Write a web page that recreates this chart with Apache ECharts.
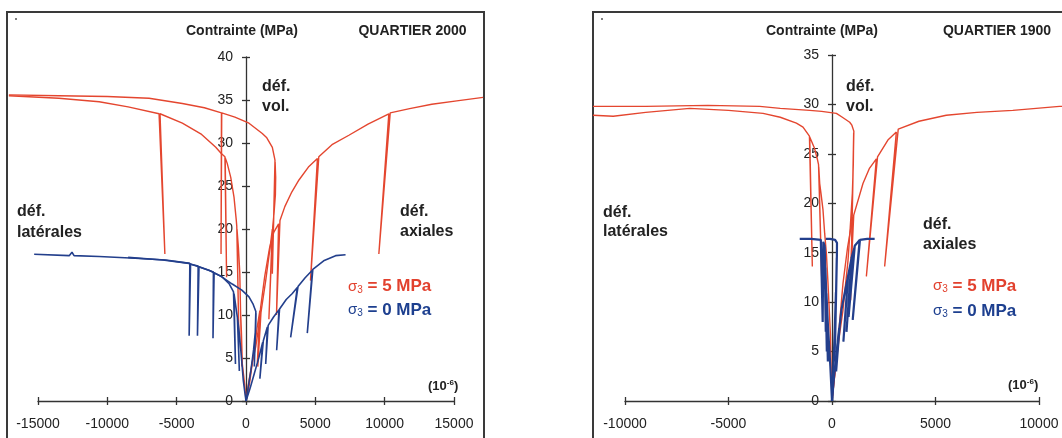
<!DOCTYPE html>
<html>
<head>
<meta charset="utf-8">
<script src="https://cdn.jsdelivr.net/npm/echarts@6/dist/echarts.min.js"></script>
<style>html,body{margin:0;padding:0;background:#fff}#c{width:1062px;height:438px}</style>
</head>
<body>
<div id="c"></div>
<script>
// ---------- DATA (strain in 1e-6, stress in MPa) ----------
// QUARTIER 2000, sigma3 = 5 MPa
const q2000_s5_axial = [[0,0],[250,2],[550,5.5],[800,8.5],[1000,10.5],[820,4.5],[1050,10.8],[1350,14.5],[1700,17.8],[2000,19.6],[2350,20.6],[2200,10],[2450,21],[2800,22.6],[3300,24.3],[3820,25.7],[4500,27.2],[5150,28.2],[4650,14],[5250,28.4],[6200,29.8],[7420,30.9],[8800,32.2],[10300,33.4],[9580,17.1],[10400,33.5],[11800,34],[13400,34.5],[15200,34.9],[17100,35.3]];
const q2000_s5_lateral = [[0,0],[-100,2],[-265,4.3],[-330,8],[-380,10],[-300,4],[-390,10.3],[-450,15],[-550,17.9],[-650,20],[-520,8],[-665,20.3],[-700,21],[-865,23.7],[-1100,26],[-1350,27.6],[-1500,28.3],[-1400,14.4],[-1520,28.4],[-1800,28.8],[-2180,29.5],[-3200,31],[-4590,32.3],[-6200,33.4],[-5850,17.1],[-6270,33.4],[-8500,34.2],[-10590,34.8],[-13500,35.2],[-17100,35.5]];
const q2000_s5_vol = [[0,0],[216,2.4],[450,4.5],[700,6.3],[1050,10],[850,4],[1080,10.3],[1420,14],[1750,18],[1900,20],[1650,9.5],[1930,20.3],[2020,21.8],[2120,24],[2140,26],[2100,27.8],[1900,14.8],[2090,28],[1900,29.5],[1500,30.6],[1175,31.1],[216,32.3],[-800,33],[-1750,33.5],[-1800,17.1],[-1770,33.5],[-3000,34.1],[-4590,34.6],[-6990,35.2],[-10000,35.4],[-13500,35.5],[-17100,35.6]];
// QUARTIER 2000, sigma3 = 0 MPa
const q2000_s0_axial = [[0,0],[300,1.5],[600,3.2],[937,5.1],[1200,6.8],[1000,2.6],[1250,7],[1540,8.6],[1420,4.3],[1600,8.8],[2000,9.8],[2380,10.6],[2210,5.9],[2420,10.7],[2900,11.8],[3340,12.5],[3700,13.2],[3220,7.4],[3750,13.3],[4250,14.3],[4780,15.2],[4420,7.9],[4820,15.3],[5600,16.3],[6460,16.9],[7180,17.0]];
const q2000_s0_lateral = [[0,0],[-100,1.2],[-195,2.4],[-350,5.5],[-505,8.2],[-600,9.5],[-480,3.5],[-620,9.7],[-865,12.5],[-760,4.3],[-900,12.7],[-1200,13.6],[-1700,14.4],[-2300,14.9],[-2380,7.3],[-2350,15],[-3390,15.6],[-3500,7.6],[-3450,15.7],[-4000,15.9],[-4100,7.6],[-4050,16],[-5790,16.4],[-8000,16.6],[-10590,16.8],[-12400,16.9],[-12550,17.3],[-12750,16.9],[-15277,17.06]];
const q2000_s0_vol = [[0,0],[150,1.5],[350,3.5],[550,6],[700,8.5],[720,10.2],[600,4],[710,10.4],[500,11.3],[216,12.1],[-300,12.9],[-990,13.6],[-1800,14.5],[-2670,15.2],[-4110,16],[-6000,16.4],[-8500,16.7]];
// QUARTIER 1900, sigma3 = 5 MPa
const q1900_s5_axial = [[0,0],[150,3],[350,7.5],[531,11.9],[750,15.5],[1000,18.6],[850,10],[1050,18.8],[1496,22],[1800,23.5],[2143,24.5],[1660,12.6],[2200,24.7],[2700,26.4],[3108,27.2],[2543,13.6],[3200,27.5],[4200,28.3],[5520,28.9],[7000,29.2],[8735,29.4],[10990,29.8],[11500,29.8]];
const q1900_s5_lateral = [[0,0],[-40,3],[-77,6.8],[-193,11.9],[-270,14.9],[-352,16.9],[-434,19.3],[-520,20.8],[-594,22],[-640,23.7],[-500,12.6],[-650,23.9],[-700,24.4],[-850,25.6],[-1076,26.7],[-950,13.6],[-1090,26.8],[-1400,27.7],[-1720,28.1],[-2500,28.7],[-3330,29.1],[-5000,29.4],[-6870,29.6],[-9000,29.2],[-10570,28.8],[-11550,28.9]];
const q1900_s5_vol = [[0,0],[100,2],[212,4.1],[370,6.8],[531,9.2],[650,11.7],[773,14.2],[880,17.5],[983,21],[1030,24],[1047,27.1],[900,10.2],[1055,27.3],[960,27.9],[855,28.2],[500,28.7],[212,29.1],[-500,29.3],[-1075,29.4],[-2500,29.6],[-3490,29.8],[-6000,29.9],[-9000,29.8],[-11550,29.8]];
// QUARTIER 1900, sigma3 = 0 MPa
const q1900_s0_axial = [[0,0],[100,2.5],[250,5.5],[350,7.4],[200,3],[370,7.6],[454,9.2],[620,11],[773,12.6],[550,6],[780,12.7],[950,14.5],[700,7],[960,14.6],[1095,15.6],[800,8.5],[1100,15.7],[1337,16.3],[1000,8.2],[1350,16.3],[1700,16.4],[2060,16.4]];
const q1900_s0_lateral = [[0,0],[-80,3.5],[-193,7.5],[-270,10.9],[-200,4],[-280,11],[-320,13.5],[-250,5],[-330,13.6],[-352,15.6],[-300,7],[-360,15.7],[-420,16.1],[-512,16.3],[-450,8],[-540,16.3],[-1000,16.4],[-1560,16.4]];
const q1900_s0_vol = [[0,0],[60,3],[130,7],[190,11],[120,4],[200,11.2],[230,14.5],[150,6],[236,14.7],[241,16],[150,16.3],[-100,16.4],[-300,16.4]];

// axis ranges / ticks: [min, max, interval]
const q2000_xTicks = [-15000, 15000, 5000];
const q2000_yTicks = [0, 40, 5];
const q1900_xTicks = [-10000, 10000, 5000];
const q1900_yTicks = [0, 35, 5];
// data-area extent (curves run past the labelled axis, to the frame)
const q2000_xData = [-17200, 17200];
const q1900_xData = [-11600, 11600];

// ---------- LAYOUT ----------
const L = {left:38, width:416, top:57, height:344};
const R = {left:625, width:414, top:55, height:346};
function zeroPx(g, t) { return g.width * (0 - t[0]) / (t[1] - t[0]); }
function dataGrid(g, t, d) {
  const k = g.width / (t[1] - t[0]);
  const z = g.left + zeroPx(g, t);
  return {left: z + d[0] * k, width: (d[1] - d[0]) * k, top: g.top, height: g.height, containLabel:false, outerBoundsMode:'none'};
}

const RED = '#e4462f', BLUE = '#233f8c';
const FONT = '"Liberation Sans", Arial, sans-serif';
const axisColor = '#333';
const fmt = v => String(v);

function xAxes(grid, dgrid, t, d) {
  const base = {type:'value', gridIndex:grid, min:t[0], max:t[1], interval:t[2], splitLine:{show:false}, position:'bottom'};
  return [
    Object.assign({}, base, {axisLine:{show:true, onZero:false, lineStyle:{color:axisColor, width:1.3}},
      axisTick:{show:true, inside:false, length:4, lineStyle:{color:axisColor, width:1.3}},
      axisLabel:{show:true, margin:16, fontSize:14, fontFamily:FONT, color:'#222', formatter:fmt}}),
    Object.assign({}, base, {axisLine:{show:false, onZero:false}, axisLabel:{show:false},
      axisTick:{show:true, inside:true, length:4, lineStyle:{color:axisColor, width:1.3}}}),
    {type:'value', gridIndex:dgrid, min:d[0], max:d[1], show:false, splitLine:{show:false}}
  ];
}
function yAxes(grid, dgrid, t, off) {
  const base = {type:'value', gridIndex:grid, min:t[0], max:t[1], interval:t[2], splitLine:{show:false}, position:'left', offset:off};
  return [
    Object.assign({}, base, {axisLine:{show:true, onZero:false, lineStyle:{color:axisColor, width:1.3}},
      axisTick:{show:true, inside:false, length:4, lineStyle:{color:axisColor, width:1.3}},
      axisLabel:{show:true, margin:13, fontSize:14, fontFamily:FONT, color:'#222', formatter:fmt}}),
    Object.assign({}, base, {axisLine:{show:false, onZero:false}, axisLabel:{show:false},
      axisTick:{show:true, inside:true, length:4, lineStyle:{color:axisColor, width:1.3}}}),
    {type:'value', gridIndex:dgrid, min:t[0], max:t[1], show:false, splitLine:{show:false}}
  ];
}
function ser(data, color, xi, yi, w) {
  return {type:'line', data:data, xAxisIndex:xi, yAxisIndex:yi, showSymbol:false, symbol:'none',
    clip:false, smooth:false, lineStyle:{color:color, width:w}, silent:true, animation:false};
}
function txt(x, y, text, opt) {
  return {type:'text', x:x, y:y, silent:true, style:Object.assign({text:text, fill:'#222',
    font:'bold 14px ' + FONT, align:'left', verticalAlign:'middle'}, opt || {})};
}
function sigma(x, y, val, color) {
  return {type:'text', x:x, y:y, silent:true, style:{
    text:'{s|σ}{b|3}{t| = ' + val + ' MPa}', fill:color, align:'left', verticalAlign:'middle',
    rich:{
      s:{fontSize:15, fontFamily:FONT, fontWeight:'normal', fill:color, verticalAlign:'middle'},
      b:{fontSize:10, fontFamily:FONT, fontWeight:'normal', fill:color, padding:[7,0,0,0], verticalAlign:'middle'},
      t:{fontSize:17, fontFamily:FONT, fontWeight:'bold', fill:color, verticalAlign:'middle'}
    }}};
}
function unit(x, y) {
  return {type:'text', x:x, y:y, silent:true, style:{
    text:'{p|(10}{s|-6}{p|)}', fill:'#222', align:'left', verticalAlign:'middle',
    rich:{
      p:{fontSize:13, fontFamily:FONT, fontWeight:'bold', fill:'#222'},
      s:{fontSize:8, fontFamily:FONT, fontWeight:'bold', fill:'#222', padding:[0,0,7,0]}
    }}};
}
const labelFont = 'bold 16px ' + FONT;

const option = {
  animation:false,
  backgroundColor:'#fff',
  grid:[
    Object.assign({containLabel:false, outerBoundsMode:'none'}, L),
    dataGrid(L, q2000_xTicks, q2000_xData),
    Object.assign({containLabel:false, outerBoundsMode:'none'}, R),
    dataGrid(R, q1900_xTicks, q1900_xData)
  ],
  xAxis: xAxes(0, 1, q2000_xTicks, q2000_xData).concat(xAxes(2, 3, q1900_xTicks, q1900_xData)),
  yAxis: yAxes(0, 1, q2000_yTicks, -zeroPx(L, q2000_xTicks)).concat(yAxes(2, 3, q1900_yTicks, -zeroPx(R, q1900_xTicks))),
  series:[
    ser(q2000_s5_lateral, RED, 2, 2, 1.4),
    ser(q2000_s5_vol, RED, 2, 2, 1.4),
    ser(q2000_s5_axial, RED, 2, 2, 1.4),
    ser(q2000_s0_lateral, BLUE, 2, 2, 1.6),
    ser(q2000_s0_vol, BLUE, 2, 2, 1.6),
    ser(q2000_s0_axial, BLUE, 2, 2, 1.6),
    ser(q1900_s5_lateral, RED, 5, 5, 1.4),
    ser(q1900_s5_vol, RED, 5, 5, 1.4),
    ser(q1900_s5_axial, RED, 5, 5, 1.4),
    ser(q1900_s0_lateral, BLUE, 5, 5, 2.2),
    ser(q1900_s0_vol, BLUE, 5, 5, 2.2),
    ser(q1900_s0_axial, BLUE, 5, 5, 2.2)
  ],
  graphic:[
    {type:'rect', silent:true, shape:{x:7, y:12, width:477, height:440}, style:{fill:'none', stroke:'#3a3a3a', lineWidth:2}},
    {type:'rect', silent:true, shape:{x:593, y:12, width:480, height:440}, style:{fill:'none', stroke:'#3a3a3a', lineWidth:2}},
    {type:'circle', silent:true, shape:{cx:16, cy:19, r:1}, style:{fill:'#555'}},
    {type:'circle', silent:true, shape:{cx:602, cy:19, r:1}, style:{fill:'#555'}},
    // left panel
    txt(242, 31.5, 'Contrainte (MPa)', {align:'center'}),
    txt(412.5, 31.5, 'QUARTIER 2000', {align:'center'}),
    txt(262, 87, 'déf.', {font:labelFont}),
    txt(262, 107, 'vol.', {font:labelFont}),
    txt(17, 212, 'déf.', {font:labelFont}),
    txt(17, 233, 'latérales', {font:labelFont}),
    txt(400, 212, 'déf.', {font:labelFont}),
    txt(400, 232, 'axiales', {font:labelFont}),
    sigma(348, 286.5, '5', '#e2412e'),
    sigma(348, 310, '0', '#1d3f8f'),
    unit(428, 386),
    // right panel
    txt(822, 31.5, 'Contrainte (MPa)', {align:'center'}),
    txt(997, 31.5, 'QUARTIER 1900', {align:'center'}),
    txt(846, 87, 'déf.', {font:labelFont}),
    txt(846, 107, 'vol.', {font:labelFont}),
    txt(603, 213, 'déf.', {font:labelFont}),
    txt(603, 232, 'latérales', {font:labelFont}),
    txt(923, 225, 'déf.', {font:labelFont}),
    txt(923, 245, 'axiales', {font:labelFont}),
    sigma(933, 286, '5', '#e2412e'),
    sigma(933, 311, '0', '#1d3f8f'),
    unit(1008, 385)
  ]
};
const chart = echarts.init(document.getElementById('c'), null, {renderer:'canvas'});
chart.setOption(option);
</script>
</body>
</html>
